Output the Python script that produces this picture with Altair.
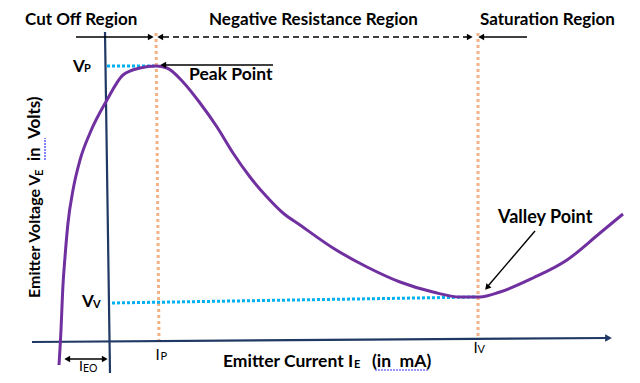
import math
import altair as alt
import pandas as pd

# ---------------- data (diagram coordinates, x to the right, y downward) ----------------
# UJT characteristic curve V_E vs I_E
curve_x = [59, 61, 62.7, 65, 68, 73, 80, 90, 107, 123, 140, 156, 167, 183, 200, 217, 233,
           250, 267, 283, 300, 333, 367, 400, 433, 460, 480, 500, 533, 567, 600, 623]
curve_y = [365, 330, 290, 257, 223, 190, 160, 133, 100, 75, 68, 66, 68, 82, 103, 127, 153,
           177, 197, 213, 225, 248, 267, 282, 292, 297, 297, 292, 278, 260, 233, 214]

# axes (x0, y0, x1, y1)
axis_segments = [(32, 342, 607, 338), (105, 32, 110, 373)]
axis_heads = [(612, 338, 90)]                      # tip x, tip y, direction (deg, clockwise from up)

# guide lines
orange_segments = [(156, 33, 159, 341), (478, 33, 478, 338)]   # I_P and I_V
blue_segments = [(107, 66, 154, 66), (112, 303, 476, 297)]     # V_P and V_V

# annotation arrows
solid_segments = [(76, 37, 150, 37), (484, 37, 527, 37), (165, 65, 273, 65),
                  (535, 231, 488, 286), (68, 359, 104, 359)]
dashed_segments = [(163, 37, 468, 37)]
arrow_heads = [(154, 37, 90), (157, 37, 270), (473, 37, 90), (478, 37, 270),
               (160, 65, 270), (485, 290, 220), (64, 359, 270), (108, 359, 90)]

# wavy spell-check underlines
wavy_segments = [(375, 370, 428, 370), (45, 160, 45, 138)]

NB = "\u00a0"
# texts: (text, start x, y, font size, angle)
region_texts = [
    ("Cut Off Region", 25, 25, 17, 0),
    ("Negative Resistance Region", 209, 25, 17, 0),
    ("Saturation Region", 480, 25, 17, 0),
]
bold_texts = [
    ("Peak Point", 189, 75, 17.5, 0),
    ("Valley Point", 498, 218, 18, 0),
    ("Emitter Current I", 223, 362, 17.5, 0),
    ("E", 354, 364.5, 11, 0),
    ("(in" + NB + NB + "mA)", 372, 362, 17.5, 0),
    ("Emitter Voltage V", 35, 298, 16, 270),
    ("E", 39.5, 176, 11, 270),
    ("in", 35, 161, 16.5, 270),
    ("Volts)", 35, 139, 17, 270),
    ("V", 73, 66.5, 17, 0),
    ("P", 84, 69, 11, 0),
    ("V", 82, 302, 17, 0),
    ("V", 93, 305, 11, 0),
]
normal_texts = [
    ("I", 155.5, 355, 15, 0),
    ("P", 160.5, 357, 11, 0),
    ("I", 473.5, 348, 15, 0),
    ("V", 477.5, 350, 11, 0),
    ("I", 79, 367, 14, 0),
    ("EO", 83, 369, 10.5, 0),
]

# ---------------- styles ----------------
PURPLE = "#7030A0"
NAVY = "#1F3864"
ORANGE = "#F4B183"
BLUE = "#00B0F0"
FONT = "Lato"

xs = alt.Scale(domain=[8, 632], nice=False, zero=False)
ys = alt.Scale(domain=[8, 375], nice=False, zero=False, reverse=True)


def X():
    return alt.X("x:Q", scale=xs, axis=None)


def Y():
    return alt.Y("y:Q", scale=ys, axis=None)


def seg_frame(segs):
    rows = []
    for k, (x0, y0, x1, y1) in enumerate(segs):
        rows.append(dict(seg=k, i=0, x=x0, y=y0))
        rows.append(dict(seg=k, i=1, x=x1, y=y1))
    return pd.DataFrame(rows)


def lines(segs, color, width, dash=None):
    mk = dict(color=color, strokeWidth=width, strokeCap="butt")
    if dash:
        mk["strokeDash"] = dash
    return alt.Chart(seg_frame(segs)).mark_line(**mk).encode(
        x=X(), y=Y(), detail="seg:N", order="i:Q")


def heads(items, color, size, back):
    rows = []
    for tx, ty, a in items:
        r = math.radians(a)
        rows.append(dict(x=tx - back * math.sin(r), y=ty + back * math.cos(r), ang=a))
    return alt.Chart(pd.DataFrame(rows)).mark_point(
        shape="triangle-up", filled=True, size=size, color=color, opacity=1, strokeWidth=0
    ).encode(x=X(), y=Y(), angle=alt.Angle("ang:Q", scale=None))


def texts(items, weight, baseline="middle"):
    df = pd.DataFrame(items, columns=["t", "x", "y", "fs", "ang"])
    return alt.Chart(df).mark_text(
        font=FONT, fontWeight=weight, align="left", baseline=baseline, color="black"
    ).encode(x=X(), y=Y(), text="t:N",
             size=alt.Size("fs:Q", scale=None),
             angle=alt.Angle("ang:Q", scale=None))


curve = alt.Chart(pd.DataFrame({"x": curve_x, "y": curve_y, "i": range(len(curve_x))})).mark_line(
    color=PURPLE, strokeWidth=3, interpolate="monotone"
).encode(x=X(), y=Y(), order="i:Q")

chart = alt.layer(
    lines(orange_segments, ORANGE, 3, [3, 3]),
    lines(blue_segments, BLUE, 3, [3, 2]),
    lines(axis_segments, NAVY, 2.2),
    heads(axis_heads, NAVY, 60, 3.5),
    curve,
    lines(solid_segments, "black", 1.4),
    lines(dashed_segments, "black", 1.4, [6, 4]),
    heads(arrow_heads, "black", 45, 3.2),
    lines(wavy_segments, "#3333FF", 1.2, [2, 1]),
    texts(region_texts, "bold", "alphabetic"),
    texts(bold_texts, "bold"),
    texts(normal_texts, "normal"),
).properties(
    width=624, height=367, padding=0, autosize="none"
).configure_view(stroke=None)

chart.save("out.html", embed_options={"renderer": "svg", "actions": False})
